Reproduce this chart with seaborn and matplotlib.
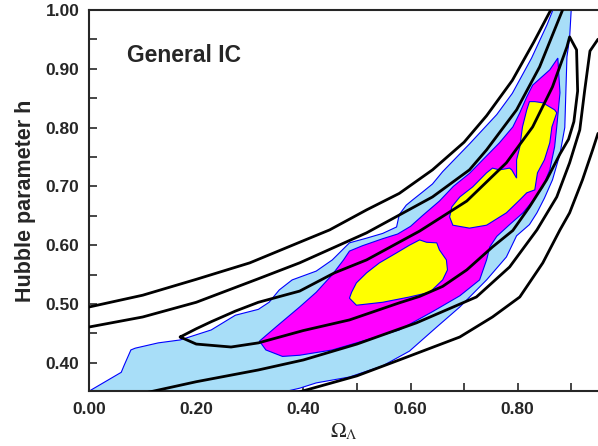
import numpy as np
import pandas as pd
import matplotlib
matplotlib.use('Agg')
import matplotlib.pyplot as plt
import seaborn as sns

# ---- contour outlines (Omega_Lambda, h) ----
blue_x = [0.0, 0.06, 0.065, 0.078, 0.086, 0.129, 0.17, 0.228, 0.273, 0.316, 0.336, 0.355, 0.379,
          0.424, 0.454, 0.486, 0.518, 0.548, 0.574, 0.579, 0.592, 0.604, 0.622, 0.641, 0.66, 0.71,
          0.761, 0.79, 0.826, 0.855, 0.866, 0.90, 0.897, 0.892, 0.89, 0.888, 0.879, 0.865, 0.85, 0.836,
          0.822, 0.798, 0.779, 0.742, 0.692, 0.649, 0.598, 0.548, 0.486, 0.424, 0.393, 0.36, 0.0]
blue_y = [0.352, 0.384, 0.395, 0.422, 0.425, 0.434, 0.439, 0.456, 0.481, 0.491, 0.503, 0.524, 0.541,
          0.556, 0.575, 0.604, 0.612, 0.620, 0.631, 0.652, 0.668, 0.677, 0.690, 0.704, 0.725, 0.772,
          0.822, 0.858, 0.918, 0.975, 1.0, 1.0, 0.952, 0.920, 0.860, 0.800, 0.755, 0.711, 0.680, 0.655,
          0.635, 0.616, 0.580, 0.541, 0.495, 0.461, 0.420, 0.395, 0.376, 0.366, 0.357, 0.35, 0.35]

magenta_x = [0.318, 0.35, 0.393, 0.424, 0.454, 0.475, 0.486, 0.51, 0.548, 0.576, 0.60, 0.622, 0.654,
             0.68, 0.71, 0.766, 0.791, 0.804, 0.817, 0.828, 0.86, 0.875, 0.879, 0.873, 0.869, 0.86,
             0.847, 0.828, 0.81, 0.785, 0.761, 0.748, 0.742, 0.729, 0.692, 0.641, 0.579, 0.518,
             0.454, 0.393, 0.361, 0.33]
magenta_y = [0.437, 0.462, 0.495, 0.520, 0.550, 0.575, 0.590, 0.599, 0.611, 0.619, 0.632, 0.650, 0.675,
             0.700, 0.722, 0.774, 0.801, 0.825, 0.852, 0.872, 0.898, 0.918, 0.859, 0.801, 0.767, 0.728,
             0.699, 0.675, 0.655, 0.635, 0.615, 0.597, 0.575, 0.541, 0.514, 0.487, 0.456, 0.439,
             0.422, 0.413, 0.411, 0.422]

yellow_low_x = [0.486, 0.499, 0.548, 0.598, 0.636, 0.66, 0.669, 0.667, 0.654, 0.649, 0.63, 0.617,
                0.598, 0.574, 0.542, 0.518, 0.499, 0.49]
yellow_low_y = [0.510, 0.498, 0.503, 0.512, 0.520, 0.541, 0.558, 0.575, 0.592, 0.604, 0.605, 0.609,
                0.600, 0.587, 0.570, 0.553, 0.536, 0.520]

yellow_up_x = [0.673, 0.679, 0.71, 0.742, 0.779, 0.804, 0.817, 0.832, 0.837, 0.85, 0.86, 0.864, 0.873,
               0.869, 0.847, 0.832, 0.822, 0.817, 0.809, 0.804, 0.798, 0.798, 0.789, 0.785, 0.766,
               0.753, 0.742, 0.716, 0.692, 0.677]
yellow_up_y = [0.648, 0.634, 0.629, 0.634, 0.655, 0.677, 0.689, 0.694, 0.723, 0.745, 0.774, 0.801, 0.825,
               0.830, 0.842, 0.844, 0.844, 0.830, 0.801, 0.767, 0.745, 0.714, 0.728, 0.731, 0.728,
               0.731, 0.723, 0.699, 0.682, 0.665]

# ---- black constraint curves ----
l1_x = [0.0, 0.1, 0.2, 0.3, 0.393, 0.449, 0.518, 0.579, 0.641, 0.70, 0.742, 0.79, 0.83, 0.862]
l1_y = [0.495, 0.515, 0.542, 0.570, 0.605, 0.626, 0.660, 0.688, 0.728, 0.775, 0.820, 0.880, 0.945, 1.0]

l2_x = [0.0, 0.1, 0.2, 0.316, 0.393, 0.518, 0.641, 0.71, 0.742, 0.798, 0.841, 0.884]
l2_y = [0.461, 0.478, 0.503, 0.543, 0.570, 0.621, 0.682, 0.728, 0.762, 0.830, 0.903, 1.0]

l3_x = [0.17, 0.2, 0.228, 0.273, 0.316, 0.393, 0.458, 0.518, 0.617, 0.705, 0.779, 0.828, 0.865, 0.892,
        0.897, 0.91, 0.912, 0.905, 0.895, 0.879, 0.854, 0.822, 0.791, 0.753, 0.705, 0.66, 0.617,
        0.579, 0.486, 0.40, 0.316, 0.265, 0.20, 0.17]
l3_y = [0.444, 0.458, 0.470, 0.488, 0.503, 0.522, 0.553, 0.575, 0.624, 0.675, 0.740, 0.801, 0.869, 0.937,
        0.954, 0.932, 0.862, 0.810, 0.780, 0.755, 0.711, 0.665, 0.625, 0.597, 0.558, 0.530, 0.513,
        0.502, 0.473, 0.455, 0.434, 0.427, 0.432, 0.444]

l4_x = [0.11, 0.2, 0.316, 0.4, 0.5, 0.611, 0.723, 0.785, 0.836, 0.873, 0.897, 0.916, 0.925, 0.935, 0.95]
l4_y = [0.35, 0.368, 0.388, 0.405, 0.432, 0.468, 0.512, 0.563, 0.626, 0.682, 0.740, 0.796, 0.862, 0.930, 0.95]

l5_x = [0.39, 0.5, 0.579, 0.692, 0.753, 0.804, 0.847, 0.879, 0.897, 0.921, 0.94, 0.95]
l5_y = [0.35, 0.378, 0.405, 0.444, 0.478, 0.512, 0.570, 0.626, 0.655, 0.711, 0.762, 0.79]

sns.set_style('ticks')
plt.rcParams['font.family'] = ['Liberation Sans', 'DejaVu Sans']
plt.rcParams['mathtext.fontset'] = 'stix'

fig = plt.figure(figsize=(5.98, 4.46), dpi=100)
ax = fig.add_axes([0.149, 0.123, 0.851, 0.855])

# filled regions, outer to inner
ax.fill(blue_x, blue_y, facecolor='#a8def8', edgecolor='#0000ff', linewidth=0.8, zorder=1)
ax.fill(magenta_x, magenta_y, facecolor='#ff00ff', edgecolor='#0000ff', linewidth=0.8, zorder=2)
ax.fill(yellow_low_x, yellow_low_y, facecolor='#ffff00', edgecolor='#0000ff', linewidth=0.8, zorder=3)
ax.fill(yellow_up_x, yellow_up_y, facecolor='#ffff00', edgecolor='#0000ff', linewidth=0.8, zorder=3)

curves = [(l1_x, l1_y), (l2_x, l2_y), (l3_x, l3_y), (l4_x, l4_y), (l5_x, l5_y)]
for cx, cy in curves:
    d = pd.DataFrame({'x': cx, 'y': cy})
    sns.lineplot(data=d, x='x', y='y', sort=False, estimator=None, color='black',
                 linewidth=2.0, ax=ax, zorder=4)

ax.set_xlim(0.0, 0.95)
ax.set_ylim(0.352, 1.0)
ax.set_xticks([0.0, 0.2, 0.4, 0.6, 0.8])
ax.set_xticks(np.arange(0.1, 0.95, 0.2), minor=True)
ax.set_yticks([0.4, 0.5, 0.6, 0.7, 0.8, 0.9, 1.0])
ax.set_yticks(np.arange(0.45, 1.0, 0.1), minor=True)
ax.set_xticklabels(['%.2f' % v for v in ax.get_xticks()], fontweight='bold', fontsize=12.5)
ax.set_yticklabels(['%.2f' % v for v in ax.get_yticks()], fontweight='bold', fontsize=12.5)
ax.tick_params(which='both', direction='in', length=6, width=1.2, top=False, right=False)
ax.tick_params(axis='y', pad=7)
ax.tick_params(axis='x', pad=8)

for s in ['left', 'bottom', 'top']:
    ax.spines[s].set_linewidth(1.5)
ax.spines['right'].set_visible(False)

ax.set_xlabel(r'$\Omega_\Lambda$', fontsize=15, labelpad=3)
ax.set_ylabel('Hubble parameter h', fontsize=15.5, fontweight='bold', labelpad=7)
ax.text(0.071, 0.923, 'General IC', fontsize=16.5, fontweight='bold', va='center', ha='left')

fig.savefig('out.png', dpi=100)
